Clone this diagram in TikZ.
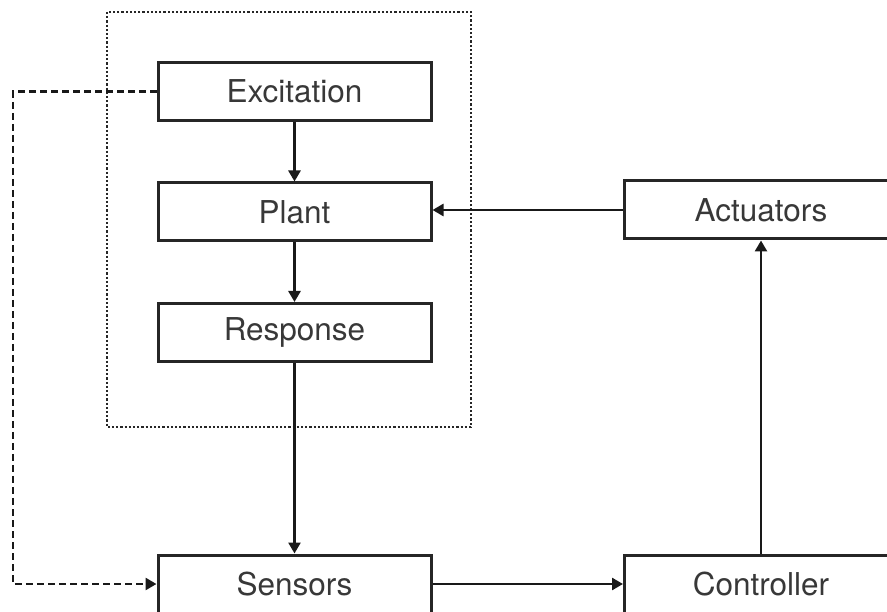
\documentclass[tikz,border=0pt]{standalone}
\usepackage{fontspec}
\setmainfont{TeX Gyre Heros}
\usetikzlibrary{arrows.meta}
\begin{document}
\begin{tikzpicture}[x=1pt,y=-1pt,
  blk/.style={draw=black!85,line width=3pt,rectangle,minimum width=273pt,minimum height=58pt,inner sep=0pt,
    font=\fontsize{31.5}{36}\selectfont,text=black!78},
  conn/.style={line width=2.6pt,draw=black!90,-{Triangle[length=11pt,width=12pt]}},
  dashconn/.style={line width=2.6pt,draw=black!90,dash pattern=on 7pt off 4pt,-{Triangle[length=11pt,width=12pt]}},
  grp/.style={line width=2.6pt,draw=black!85,dash pattern=on 2.2pt off 2pt}]
\useasboundingbox (0,0) rectangle (887,612);
\clip (0,0) rectangle (887,612);
\draw[grp] (107,12) rectangle (471,427);
\node[blk] (exc) at (294.5,91.5) {Excitation};
\node[blk] (plant) at (294.5,212) {Plant};
\node[blk] (resp) at (294.5,332.5) {Response};
\node[blk] (sens) at (294.5,584) {Sensors};
\node[blk] (act) at (761,210) {Actuators};
\node[blk] (ctrl) at (761,584) {Controller};
\coordinate (c1) at (13,91.5);
\coordinate (c2) at (13,584);
\draw[conn] (exc) -- (plant);
\draw[conn] (plant) -- (resp);
\draw[conn] (resp) -- (sens);
\draw[conn] (sens) -- (ctrl);
\draw[conn] (ctrl) -- (act);
\draw[conn] (act.west) -- (act.west -| plant.east);
\draw[dashconn] (exc.west) -- (c1) -- (c2) -- (sens.west);
\end{tikzpicture}
\end{document}
